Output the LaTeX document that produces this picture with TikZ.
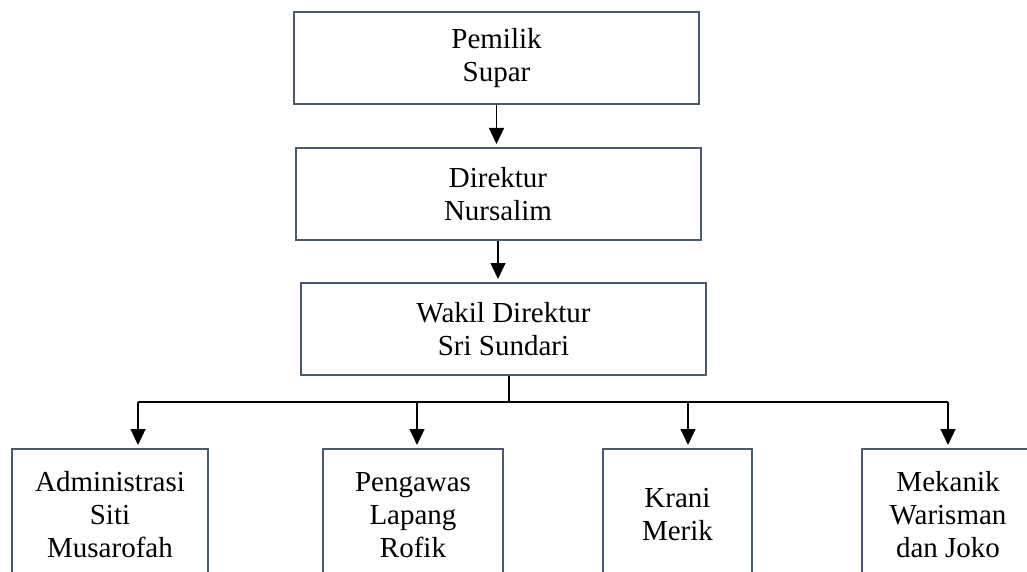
\documentclass[tikz,border=0pt]{standalone}
\usepackage{fontspec}
\setmainfont{Liberation Serif}
\usetikzlibrary{arrows.meta}

\definecolor{boxline}{HTML}{4A5A70}
\tikzset{
  unit/.style={draw=boxline,line width=2pt,align=center,inner sep=0pt,
    font=\fontsize{29}{33}\selectfont},
  topunit/.style={unit,minimum width=405pt,minimum height=92pt},
  staffunit/.style={unit,minimum height=132pt},
  link/.style={line width=1.2pt},
  arr/.style={link,-{Triangle[width=15pt,length=16pt]},shorten >=3pt}
}

\begin{document}
\begin{tikzpicture}[x=1pt,y=-1pt]
          \clip (0,0) rectangle (1027,572);
          \node[topunit] (pemilik) at (496.5,58) {Pemilik\\Supar};
          \node[topunit] (direktur) at (498,194) {Direktur\\Nursalim};
          \node[topunit] (wakil) at (503.5,329) {Wakil Direktur\\Sri Sundari};

          \node[staffunit,minimum width=196pt] (admin) at (110,515) {Administrasi\\Siti\\Musarofah};
          \node[staffunit,minimum width=180pt] (pengawas) at (413,515) {Pengawas\\Lapang\\Rofik};
          \node[staffunit,minimum width=149pt] (krani) at (677.5,515) {Krani\\Merik};
          \node[staffunit,minimum width=172pt] (mekanik) at (948,515) {Mekanik\\Warisman\\dan Joko};

          \draw[arr] (pemilik.south) -- (pemilik.south |- direktur.north);
          \draw[arr] (direktur.south) -- (direktur.south |- wakil.north);

          % garis cabang ke bawah
          \coordinate (hub) at (509,402);
          \coordinate (t1) at (138,402);
          \coordinate (t2) at (417,402);
          \coordinate (t3) at (688,402);
          \coordinate (t4) at (948,402);
          \draw[link] (wakil.south -| hub) -- (hub);
          \draw[link] (t1) -- (t4);
          \draw[arr] (t1) -- (t1 |- admin.north);
          \draw[arr] (t2) -- (t2 |- pengawas.north);
          \draw[arr] (t3) -- (t3 |- krani.north);
          \draw[arr] (t4) -- (t4 |- mekanik.north);
        \end{tikzpicture}
\end{document}
